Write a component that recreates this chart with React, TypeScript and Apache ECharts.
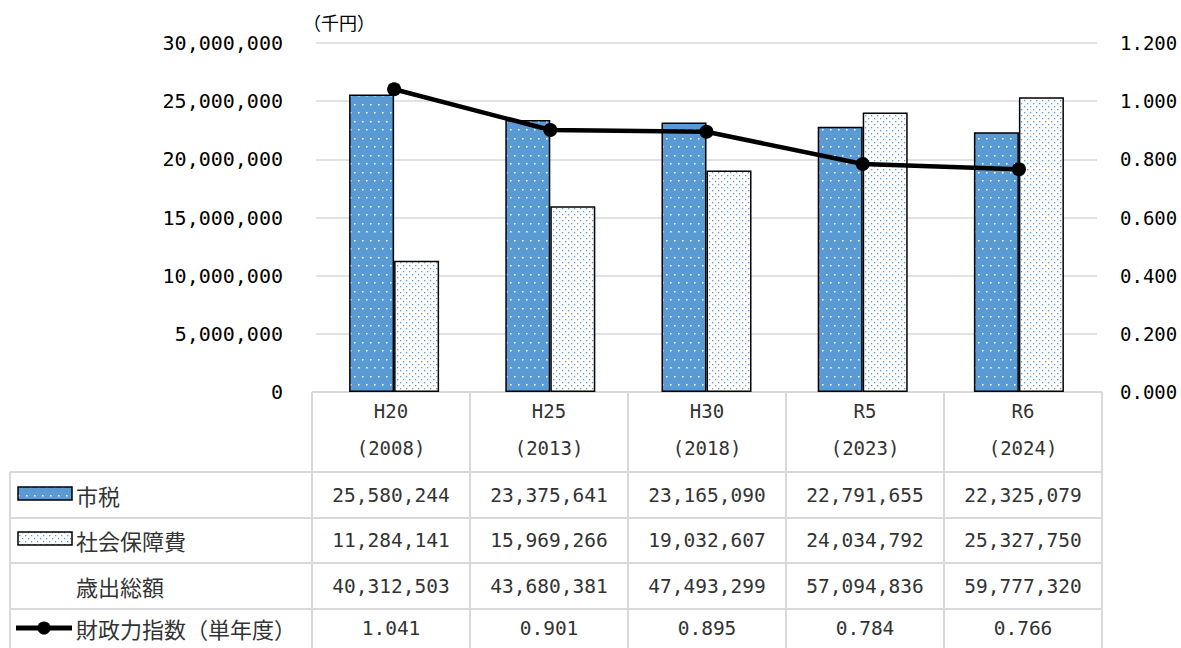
import React, { useEffect, useRef } from "react";
import * as echarts from "echarts";

const eras = ["H20", "H25", "H30", "R5", "R6"];
const years = ["2008", "2013", "2018", "2023", "2024"];
const shizei = [25580244, 23375641, 23165090, 22791655, 22325079];
const shakai = [11284141, 15969266, 19032607, 24034792, 25327750];
const saishutsu = [40312503, 43680381, 47493299, 57094836, 59777320];
const zaisei = [1.041, 0.901, 0.895, 0.784, 0.766];
const rowLabels = ["市税", "社会保障費", "歳出総額", "財政力指数（単年度）"];
const unitLabel = "（千円）";
const leftTicks = { min: 0, max: 30000000, interval: 5000000 };
const rightTicks = { min: 0, max: 1.2, interval: 0.2 };

const BLUE = "#5B9BD5";
const GRID = "#d9d9d9";
const TXT = "#333333";
const MONO = '"DejaVu Sans Mono", monospace';
const JP = '"Noto Sans CJK JP", sans-serif';

function makePattern(bg: string, dot: string, w: number, h: number, dots: number[][], size: number) {
  const c = document.createElement("canvas");
  c.width = w;
  c.height = h;
  const ctx = c.getContext("2d")!;
  ctx.fillStyle = bg;
  ctx.fillRect(0, 0, w, h);
  ctx.fillStyle = dot;
  dots.forEach(([x, y]) => ctx.fillRect(x, y, size, size));
  return { image: c, repeat: "repeat" as const };
}

const fmt = (n: number) => n.toLocaleString("en-US");

export default function App() {
  const ref = useRef<HTMLDivElement>(null);
  useEffect(() => {
    document.body.style.margin = "0";
    const chart = echarts.init(ref.current!, null, { renderer: "svg" });
    const patA = makePattern(BLUE, "#ffffff", 8, 17, [[2, 2], [6, 10]], 1.5);
    const patB = makePattern("#ffffff", BLUE, 6, 6, [[1, 1], [4, 4]], 1.3);

    const W = 1181;
    const H = 648;
    const gridLeft = 316;
    const gridRight = 84;
    const gridTop = 43;
    const gridBottom = 256;
    const axisY = H - gridBottom;

    chart.setOption({
      animation: false,
      grid: { left: gridLeft, right: gridRight, top: gridTop, bottom: gridBottom, containLabel: false },
      xAxis: {
        type: "category",
        data: eras.map((e, i) => `${e}\n(${years[i]})`),
        axisLine: { show: false },
        axisTick: { show: false },
        axisLabel: { show: false },
      },
      yAxis: [
        {
          type: "value",
          min: leftTicks.min,
          max: leftTicks.max,
          interval: leftTicks.interval,
          axisLine: { show: false },
          axisTick: { show: false },
          axisLabel: { fontFamily: MONO, fontSize: 20, color: "#000", margin: 33, formatter: (v: number) => fmt(v) },
          splitLine: { lineStyle: { color: GRID, width: 1.5 } },
        },
        {
          type: "value",
          min: rightTicks.min,
          max: rightTicks.max,
          interval: rightTicks.interval,
          axisLine: { show: false },
          axisTick: { show: false },
          axisLabel: { fontFamily: MONO, fontSize: 19, color: "#000", margin: 23, formatter: (v: number) => v.toFixed(3) },
          splitLine: { show: false },
        },
      ],
      series: [
        {
          name: rowLabels[0],
          type: "bar",
          data: shizei,
          barWidth: 45,
          barGap: "0%",
          itemStyle: { color: patA, borderColor: "#000", borderWidth: 1.5 },
        },
        {
          name: rowLabels[1],
          type: "bar",
          data: shakai,
          barWidth: 45,
          barGap: "0%",
          itemStyle: { color: patB, borderColor: "#000", borderWidth: 1.5 },
        },
        {
          name: rowLabels[3],
          type: "line",
          yAxisIndex: 1,
          data: zaisei,
          symbol: "circle",
          symbolSize: 14,
          z: 10,
          lineStyle: { color: "#000", width: 4.5 },
          itemStyle: { color: "#000" },
        },
      ],
    });

    // table below the plot
    const tableColLeft = 312;
    const colW = 158;
    const tableRight = tableColLeft + colW * eras.length;
    const colEdges = eras.map((_, i) => tableColLeft + i * colW).concat([tableRight]);
    const colCenters = eras.map((_, i) => tableColLeft + (i + 0.5) * colW);
    const rowEdges = [472, 518, 563, 609];
    const rowCenters = [495, 540, 586, 628];
    const tableLeft = 10;
    const els: any[] = [];
    const ln = (x1: number, y1: number, x2: number, y2: number) =>
      els.push({ type: "line", shape: { x1, y1, x2, y2 }, style: { stroke: GRID, lineWidth: 2 }, silent: true });
    ln(tableColLeft, axisY, tableRight, axisY);
    rowEdges.forEach((y) => ln(tableLeft, y, tableRight, y));
    colEdges.forEach((x) => ln(x, axisY, x, H));
    ln(tableLeft, rowEdges[0], tableLeft, H);

    // header
    eras.forEach((e, i) => {
      els.push({
        type: "text",
        x: colCenters[i],
        y: 411,
        style: { text: e, fill: TXT, font: `19px ${MONO}`, textAlign: "center", textVerticalAlign: "middle" },
        silent: true,
      });
      els.push({
        type: "text",
        x: colCenters[i],
        y: 448,
        style: { text: `(${years[i]})`, fill: TXT, font: `19px ${MONO}`, textAlign: "center", textVerticalAlign: "middle" },
        silent: true,
      });
    });

    const rows = [
      shizei.map(fmt),
      shakai.map(fmt),
      saishutsu.map(fmt),
      zaisei.map((v) => v.toFixed(3)),
    ];
    rows.forEach((vals, r) => {
      vals.forEach((t, i) => {
        els.push({
          type: "text",
          x: colCenters[i],
          y: rowCenters[r],
          style: { text: t, fill: TXT, font: `19.5px ${MONO}`, textAlign: "center", textVerticalAlign: "middle" },
          silent: true,
        });
      });
      els.push({
        type: "text",
        x: 76,
        y: rowCenters[r],
        style: { text: rowLabels[r], fill: TXT, font: `22px ${JP}`, textAlign: "left", textVerticalAlign: "middle" },
        silent: true,
      });
    });
    // legend swatches
    els.push({
      type: "rect",
      shape: { x: 18, y: rowCenters[0] - 8, width: 54, height: 13 },
      style: { fill: patA, stroke: "#000", lineWidth: 1.5 },
      silent: true,
    });
    els.push({
      type: "rect",
      shape: { x: 18, y: rowCenters[1] - 8, width: 54, height: 13 },
      style: { fill: patB, stroke: "#000", lineWidth: 1.5 },
      silent: true,
    });
    els.push({
      type: "line",
      shape: { x1: 16, y1: rowCenters[3], x2: 72, y2: rowCenters[3] },
      style: { stroke: "#000", lineWidth: 5 },
      silent: true,
    });
    els.push({
      type: "circle",
      shape: { cx: 44, cy: rowCenters[3], r: 6.5 },
      style: { fill: "#000" },
      silent: true,
    });
    // unit label above the left axis
    els.push({
      type: "text",
      x: 303,
      y: 22,
      style: { text: unitLabel, fill: "#000", font: `18px ${JP}`, textAlign: "left", textVerticalAlign: "middle" },
      silent: true,
    });

    chart.setOption({ graphic: { elements: els } });

    return () => chart.dispose();
  }, []);
  return <div ref={ref} style={{ width: 1181, height: 648 }} />;
}
